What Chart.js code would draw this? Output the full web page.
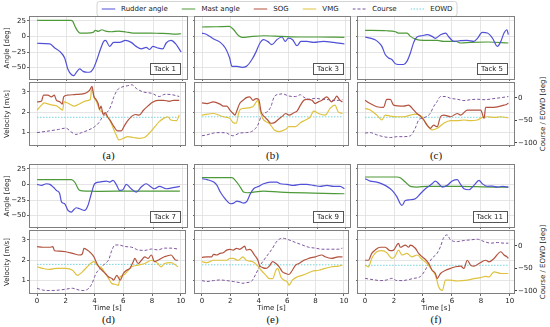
<!DOCTYPE html>
<html lang="en">
<head>
<meta charset="UTF-8">
<title>Tack manoeuvres</title>
<script src="https://cdn.jsdelivr.net/npm/chart.js"></script>
<style>
  body { margin: 0; background: #fff; width: 550px; height: 327px; position: relative; overflow: hidden; font-family: "DejaVu Sans", sans-serif; }
  canvas { position: absolute; }
  #legend { position: absolute; left: 277px; top: 1px; transform: translateX(-50%); height: 14px; border: 1px solid #d4d4d4; border-radius: 3px; padding: 0 4px; display: flex; align-items: center; font-size: 7px; color: #222; white-space: nowrap; background: #fff; }
  #legend .item { display: flex; align-items: center; margin-right: 14px; }
  #legend .item:last-child { margin-right: 0; }
  #legend svg { margin-right: 5.6px; }
  .letter { position: absolute; font: 11px "Liberation Serif", "DejaVu Serif", serif; color: #111; transform: translate(-50%, -50%); }
  .rtitle { position: absolute; font: 7px "DejaVu Sans", sans-serif; color: #222; white-space: nowrap; transform: translate(-50%, -50%) rotate(-90deg); }
</style>
</head>
<body>
<div id="legend"></div>
<script>
const seriesNames = ['Rudder angle', 'Mast angle', 'SOG', 'VMG', 'Course', 'EOWD'];
const tackNames = ['Tack 1', 'Tack 3', 'Tack 5', 'Tack 7', 'Tack 9', 'Tack 11'];
const panelLetters = ['(a)', '(b)', '(c)', '(d)', '(e)', '(f)'];
const timeTicks = [0, 2, 4, 6, 8, 10];
const angleTicks = [-50, -25, 0, 25];
const velocityTicks = [1, 2, 3];
const courseTicks = [-100, -50, 0];
const eowdLevels = [-43, -42, -43, -41, -42, -43];

// [time s, value] pairs
const rudder1 = [[0,-11],[0.87,-12],[1.21,-18.6],[1.55,-24],[1.89,-34.6],[2.12,-53],[2.35,-61],[2.51,-62.8],[2.74,-56],[2.92,-52],[3.15,-56],[3.42,-57.4],[3.65,-57],[3.88,-50.5],[4.11,-37],[4.34,-21],[4.57,-8],[4.7,-6.4],[4.98,-16],[5.25,-9.6],[5.66,-9.6],[6.07,-6.4],[6.46,-9.6],[6.8,-16],[7.15,-20],[7.49,-17.6],[7.72,-21],[7.95,-16],[8.29,-18.6],[8.63,-20],[8.86,-10.6],[9.2,-6.4],[9.5,-11.7],[9.89,-25]];
const mast1 = [[0,25.5],[1,25.5],[2.3,25.5],[2.45,24],[2.6,16],[2.8,8],[2.95,5.3],[3.4,5.3],[3.85,6.4],[4.0,9.6],[4.2,8],[4.45,10.6],[4.7,8.5],[5.1,7.4],[5.6,8.5],[6.1,7],[6.6,5.3],[7.2,5.3],[7.8,5.3],[8.4,4.8],[9.0,4.3],[9.5,3.7],[9.89,4.2]];
const sog1 = [[0,2.51],[0.3,2.54],[0.45,2.84],[0.75,2.84],[1.0,2.76],[1.2,2.84],[1.35,2.59],[1.6,2.51],[1.75,2.4],[1.85,2.76],[2.1,2.84],[2.6,2.87],[3.0,2.89],[3.4,2.95],[3.65,3.08],[3.82,3.28],[3.95,2.79],[4.1,2.63],[4.25,2.43],[4.35,2.14],[4.45,2.3],[4.6,1.89],[4.75,1.98],[4.9,1.78],[5.1,1.59],[5.35,1.29],[5.6,1.08],[5.85,1.08],[6.1,1.37],[6.35,1.62],[6.6,1.81],[6.85,1.89],[7.1,1.86],[7.4,2.1],[7.7,2.3],[8.0,2.48],[8.4,2.59],[8.8,2.59],[9.2,2.54],[9.5,2.59],[9.89,2.59]];
const vmg1 = [[0,2.11],[0.25,2.3],[0.5,2.46],[0.8,2.4],[1.1,2.35],[1.4,2.3],[1.6,2.19],[1.78,2.11],[1.88,2.51],[2.2,2.43],[2.6,2.3],[3.0,2.43],[3.4,2.56],[3.7,2.63],[3.82,3.21],[3.95,2.76],[4.15,2.51],[4.35,2.11],[4.55,2.02],[4.8,1.86],[5.05,1.62],[5.3,1.21],[5.5,0.89],[5.7,0.64],[6.0,0.72],[6.3,0.8],[6.7,0.76],[7.1,0.72],[7.5,0.77],[7.8,0.97],[8.1,1.21],[8.5,1.54],[8.8,1.7],[9.1,1.78],[9.3,1.62],[9.7,1.59],[9.89,1.86]];
const course1 = [[0,-77],[0.9,-73],[1.5,-70],[2.0,-67],[2.35,-75],[2.7,-81],[3.1,-77],[3.6,-71],[4.0,-64],[4.3,-55],[4.5,-45],[4.8,-34],[5.0,-27],[5.2,-12],[5.35,3],[5.6,18],[5.9,24],[6.3,27],[6.6,29],[6.9,21],[7.4,13],[8.0,10],[8.5,3],[8.9,8],[9.4,7],[9.89,3]];

const rudder3 = [[0,5.3],[0.35,2.7],[0.81,-4.3],[1.27,-9.6],[1.62,-18.6],[1.92,-34.6],[2.08,-48],[2.43,-48],[2.78,-49.5],[3.08,-48],[3.47,-37],[3.77,-24],[4.0,-11.7],[4.28,-5.3],[4.56,-8],[4.86,-13.3],[5.2,-5.3],[5.56,-1],[5.79,-8],[6.0,-2.7],[6.3,-5.3],[6.6,-15],[6.88,-8],[7.3,-8],[7.75,-9.6],[8.45,-8],[9.14,-9.6],[9.9,-12.2]];
const mast3 = [[0,15],[1.0,15.4],[1.9,16],[2.2,10.6],[2.55,1],[2.8,-1.6],[3.5,0],[4.3,1],[5.5,0],[6.8,-1],[8.1,-1],[9.9,-1.6]];
const sog3 = [[0,2.46],[0.35,2.43],[0.8,2.51],[1.27,2.4],[1.5,2.3],[1.75,2.3],[1.97,2.11],[2.2,1.94],[2.33,1.86],[2.43,2.02],[2.66,2.43],[2.9,2.59],[3.13,2.72],[3.36,2.76],[3.59,2.59],[3.82,2.67],[4.0,2.63],[4.17,2.02],[4.4,1.78],[4.63,1.62],[4.86,1.46],[5.1,1.49],[5.33,1.62],[5.67,1.81],[5.9,1.94],[6.13,1.86],[6.48,1.98],[6.7,2.06],[6.94,2.35],[7.18,2.59],[7.4,2.63],[7.75,2.59],[7.98,2.43],[8.2,2.51],[8.45,2.59],[8.8,2.76],[9.14,2.51],[9.37,2.67],[9.49,2.79],[9.72,2.59],[9.9,2.51]];
const vmg3 = [[0,1.86],[0.81,1.94],[1.5,1.78],[1.97,1.7],[2.2,1.49],[2.43,1.46],[2.55,1.86],[2.66,2.11],[2.9,2.19],[3.59,2.27],[3.94,2.59],[4.05,2.19],[4.28,1.7],[4.51,1.54],[4.74,1.46],[5.1,1.13],[5.44,1.05],[5.9,1.16],[6.13,1.29],[6.6,1.29],[6.94,1.49],[7.29,1.62],[7.64,1.78],[7.87,2.06],[8.2,1.94],[8.68,1.86],[9.03,2.19],[9.37,2.35],[9.6,2.02],[9.9,1.94]];
const course3 = [[0,-84],[0.35,-82],[0.81,-78],[1.27,-77],[1.74,-78],[1.97,-82],[2.2,-84],[2.66,-78],[3.13,-77],[3.59,-73],[3.94,-60],[4.17,-41],[4.4,-34],[4.63,-30],[4.86,-19],[5.1,3],[5.44,8],[5.67,9],[6.13,4],[6.6,3],[6.94,7],[7.18,1.5],[7.52,-3],[8.0,-1],[8.45,-3],[8.9,-4],[9.37,-6],[9.9,-4]];

const rudder5 = [[0,-1],[0.35,-2.7],[0.69,-5.3],[0.93,-9.6],[1.16,-16],[1.39,-29],[1.62,-34.6],[1.85,-37],[2.08,-43.6],[2.31,-45],[2.66,-45],[2.89,-40],[3.13,-26.6],[3.36,-9.6],[3.59,-1],[3.94,1],[4.28,2.7],[4.63,0],[4.86,-3.2],[5.21,2.7],[5.56,5.3],[5.79,-1],[6.13,-8],[6.6,-6.9],[7.06,-6.4],[7.52,-8],[7.75,-3.7],[8.1,6.4],[8.45,5.3],[8.8,-2.7],[9.14,-16],[9.38,-8],[9.6,5.3],[9.8,10.6],[9.9,2.7]];
const mast5 = [[0,9.6],[1.5,9],[2.1,7.4],[2.3,5.3],[2.9,5.3],[3.13,0],[3.47,-4.3],[4.05,-6.4],[5.0,-6.4],[5.4,-8],[6.3,-8],[6.6,-10.6],[7.3,-9.6],[8.5,-9],[9.9,-10.6]];
const sog5 = [[0,2.59],[0.35,2.43],[0.81,2.27],[1.27,2.24],[1.5,2.63],[1.74,2.63],[1.97,2.35],[2.66,2.3],[3.0,2.35],[3.36,2.11],[3.59,1.94],[3.82,1.81],[4.05,1.62],[4.28,1.37],[4.51,1.21],[4.74,1.37],[4.98,1.29],[5.21,1.78],[5.44,1.86],[5.9,1.78],[6.37,1.94],[6.6,1.86],[7.06,2.11],[7.52,2.11],[7.99,2.11],[8.22,1.7],[8.33,2.24],[8.68,2.24],[9.14,2.27],[9.6,2.35],[9.8,2.4],[9.9,2.46]];
const vmg5 = [[0,2.19],[0.35,2.11],[0.81,1.86],[1.16,1.62],[1.39,1.86],[1.74,1.81],[2.2,1.78],[2.66,1.78],[3.13,1.86],[3.47,1.91],[3.94,1.78],[4.28,1.37],[4.63,1.13],[4.98,1.21],[5.44,1.46],[5.9,1.59],[6.37,1.59],[6.83,1.62],[7.29,1.59],[7.75,1.62],[8.1,1.75],[8.45,1.78],[8.91,1.75],[9.38,1.78],[9.9,1.72]];
const course5 = [[0,-78],[0.35,-77],[0.81,-82],[1.27,-86],[1.74,-88],[2.2,-86],[2.66,-86],[3.13,-84],[3.47,-67],[3.7,-49],[3.94,-45],[4.28,-41],[4.51,-34],[4.74,-19],[4.98,-8],[5.21,3],[5.56,3],[5.9,-1],[6.37,-3],[6.83,-6],[7.29,-4],[7.75,-3],[8.22,-4],[8.91,-1.5],[9.6,1.5],[9.9,3]];

const rudder7 = [[0,0],[0.3,-1.6],[0.64,1],[0.87,0],[1.1,-4.3],[1.32,-9.6],[1.55,-15],[1.67,-28],[1.89,-31],[2.12,-41.7],[2.35,-44.4],[2.47,-41.7],[2.69,-37.4],[2.92,-39],[3.26,-41.7],[3.49,-33.7],[3.72,-15],[3.95,1],[4.29,3.7],[4.75,5.3],[4.98,3.7],[5.21,6.4],[5.43,0],[5.66,-9.6],[5.89,-8.6],[6.12,0],[6.46,-7],[6.8,-12.3],[7.15,-4.3],[7.49,1],[7.83,-4.3],[8.06,-7],[8.4,-3.2],[8.86,-7],[9.32,-5.3],[9.8,-3.2]];
const mast7 = [[0,7.5],[2.35,7.5],[2.58,3.7],[2.92,-9.6],[3.4,-10.7],[4.3,-11.2],[6.6,-10.7],[8.9,-10.7],[9.8,-10.7]];
const sog7 = [[0,2.67],[0.4,2.64],[0.87,2.64],[1.1,2.67],[1.21,2.47],[1.55,2.45],[2.0,2.42],[2.47,2.34],[2.92,2.26],[3.15,2.31],[3.26,2.59],[3.49,2.5],[3.72,2.37],[3.95,2.17],[4.06,2.0],[4.29,1.68],[4.52,1.51],[4.75,1.35],[4.98,1.18],[5.21,1.1],[5.32,1.02],[5.55,1.26],[5.78,1.02],[6.0,1.35],[6.23,1.51],[6.46,1.6],[6.69,1.93],[6.8,2.09],[7.03,1.84],[7.26,2.0],[7.49,2.17],[7.72,2.09],[7.95,2.26],[8.17,1.93],[8.4,2.0],[8.86,2.17],[9.32,2.26],[9.66,2.0],[9.8,2.0]];
const vmg7 = [[0,1.68],[0.4,1.6],[0.87,1.55],[1.32,1.6],[2.0,1.6],[2.47,1.51],[2.81,1.26],[3.15,1.43],[3.49,1.68],[3.95,1.93],[4.18,1.76],[4.52,1.6],[4.75,1.35],[4.98,1.1],[5.21,0.85],[5.43,0.82],[5.66,0.77],[5.78,1.18],[6.0,1.26],[6.35,1.51],[6.58,1.68],[7.03,1.76],[7.49,1.84],[7.95,2.0],[8.4,1.84],[8.63,1.68],[8.86,1.84],[9.32,1.88],[9.8,1.68]];
const course7 = [[0,-94],[0.4,-98],[0.87,-99],[1.55,-98],[2.0,-96],[2.47,-94],[2.92,-98],[3.26,-99],[3.6,-94],[3.83,-83],[4.06,-64],[4.29,-53],[4.52,-46],[4.75,-38.5],[4.98,-31],[5.21,-9],[5.43,2],[5.66,2],[6.12,-1.5],[6.58,-3],[7.03,-9],[7.49,-10],[7.95,-7],[8.4,-9],[8.86,-5],[9.32,-5],[9.8,-7]];

const rudder9 = [[0,9],[0.35,7.5],[0.81,3.7],[1.04,-1.6],[1.27,-12.3],[1.5,-20],[1.74,-26.7],[1.97,-31],[2.2,-30],[2.43,-26.7],[2.66,-28],[2.89,-30],[3.13,-26.7],[3.36,-15],[3.59,-7],[3.94,-3.2],[4.28,1],[4.75,3.7],[5.21,3.7],[5.44,1],[5.9,0],[6.37,-1.6],[6.83,0],[7.29,0],[7.75,-1.6],[8.22,-3.2],[8.68,-1.6],[9.14,-3.2],[9.6,-3.2],[9.9,-7]];
const mast9 = [[0,10.7],[2.08,10.7],[2.31,6.4],[2.66,-4.3],[2.89,-12.3],[3.13,-13.4],[4.28,-10.7],[5.44,-12.3],[7.75,-13.9],[9.9,-15]];
const sog9 = [[0,2.14],[0.35,2.17],[0.69,2.17],[0.81,2.29],[1.04,2.26],[1.27,2.34],[1.5,2.37],[1.74,2.5],[1.97,2.54],[2.2,2.5],[2.43,2.59],[2.66,2.54],[2.89,2.64],[3.01,2.7],[3.13,2.5],[3.36,2.54],[3.47,2.5],[3.7,2.26],[3.94,2.0],[4.05,1.76],[4.28,1.64],[4.51,1.6],[4.74,1.71],[4.98,1.93],[5.21,1.84],[5.44,1.68],[5.67,1.43],[5.9,1.35],[6.13,1.3],[6.37,1.51],[6.6,1.76],[6.83,1.84],[7.18,2.0],[7.52,2.09],[7.99,2.17],[8.45,2.26],[8.68,2.17],[9.14,2.09],[9.6,2.17],[9.9,2.17]];
const vmg9 = [[0,1.93],[0.35,1.88],[0.81,2.0],[1.27,2.0],[1.74,2.0],[1.97,2.09],[2.2,2.09],[2.55,2.0],[2.89,2.17],[3.13,2.0],[3.59,1.93],[3.94,1.71],[4.17,1.51],[4.51,1.26],[4.74,1.1],[4.98,1.1],[5.21,1.51],[5.33,1.6],[5.56,1.18],[5.79,1.02],[6.02,0.93],[6.13,0.77],[6.37,1.02],[6.71,1.18],[7.06,1.26],[7.41,1.35],[7.76,1.46],[8.22,1.51],[8.68,1.6],[9.14,1.68],[9.6,1.71],[9.9,1.76]];
const course9 = [[0,-77],[0.35,-79],[0.81,-77],[1.27,-75.6],[1.74,-77],[2.2,-79],[2.66,-81.5],[2.89,-83],[3.13,-81.5],[3.47,-79],[3.82,-61],[4.05,-46],[4.28,-35],[4.63,-20],[4.98,-5],[5.21,7.4],[5.44,14.8],[5.67,17],[6.13,13.3],[6.6,7.4],[7.06,2.2],[7.52,-3],[7.99,-5],[8.45,-7.4],[9.14,-7.4],[9.6,-7.4],[9.9,-5]];

const rudder11 = [[0,9],[0.35,5.3],[0.81,3.7],[1.04,2],[1.39,-1.6],[1.74,-7],[1.97,-12.3],[2.2,-20],[2.43,-31],[2.55,-33.7],[2.78,-25.7],[3.13,-24.6],[3.47,-23],[3.82,-15],[4.17,-7],[4.4,-3.2],[4.63,1],[4.86,5.3],[5.09,1],[5.33,-4.3],[5.67,-1.6],[6.02,5.3],[6.37,7.5],[6.6,0],[6.83,-7],[7.18,-8.6],[7.52,-1.6],[7.87,6.4],[8.1,1],[8.45,-3.2],[8.8,-2.7],[9.14,-4.3],[9.49,-3.2],[9.9,-4.3]];
const mast11 = [[0,11.8],[2.2,11.8],[2.43,10.7],[2.78,3.7],[3.13,-3.2],[3.59,-4.3],[4.28,-3.2],[5.44,-3.2],[6.6,-3.2],[8.91,-4.3],[9.9,-4.3]];
const sog11 = [[0,2.0],[0.23,2.0],[0.46,2.34],[0.69,2.5],[1.04,2.64],[1.39,2.64],[1.74,2.47],[1.97,2.5],[2.31,2.83],[2.43,2.64],[2.78,2.75],[3.01,2.64],[3.13,2.75],[3.47,2.59],[3.7,2.34],[3.94,2.17],[4.17,2.04],[4.4,1.84],[4.63,1.51],[4.86,1.35],[4.98,1.1],[5.21,1.35],[5.56,1.51],[5.9,1.6],[6.25,1.68],[6.6,1.71],[6.83,1.6],[7.06,2.0],[7.29,1.76],[7.52,1.71],[7.87,1.84],[8.33,2.0],[8.56,1.92],[8.91,2.09],[9.38,2.42],[9.6,2.26],[9.8,2.17],[9.9,2.09]];
const vmg11 = [[0,1.76],[0.23,1.68],[0.46,2.09],[0.81,2.42],[1.16,2.47],[1.5,2.37],[1.85,2.09],[2.08,2.21],[2.31,2.5],[2.55,2.26],[2.89,2.34],[3.24,2.17],[3.59,2.26],[3.94,2.04],[4.28,1.84],[4.63,1.51],[4.86,1.26],[5.09,0.69],[5.33,0.52],[5.56,1.02],[5.9,1.02],[6.37,0.98],[7.06,1.02],[7.52,1.1],[7.99,1.15],[8.33,1.21],[8.56,1.18],[8.91,1.43],[9.38,1.35],[9.9,1.35]];
const course11 = [[0,-72],[0.35,-74],[0.69,-75.6],[1.04,-77],[1.5,-75.6],[1.85,-72],[2.2,-77],[2.55,-77],[2.89,-75.6],[3.36,-72],[3.82,-68],[4.17,-53],[4.4,-38.5],[4.63,-27.4],[4.98,-16.3],[5.21,-1.5],[5.44,19],[5.67,24.4],[5.9,13.3],[6.37,9.6],[6.83,11.9],[7.29,13.3],[7.75,14.8],[8.22,9.6],[8.68,6],[9.14,7.4],[9.6,6],[9.9,6]];

const tacks = [
  { rudder: rudder1, mast: mast1, sog: sog1, vmg: vmg1, course: course1 },
  { rudder: rudder3, mast: mast3, sog: sog3, vmg: vmg3, course: course3 },
  { rudder: rudder5, mast: mast5, sog: sog5, vmg: vmg5, course: course5 },
  { rudder: rudder7, mast: mast7, sog: sog7, vmg: vmg7, course: course7 },
  { rudder: rudder9, mast: mast9, sog: sog9, vmg: vmg9, course: course9 },
  { rudder: rudder11, mast: mast11, sog: sog11, vmg: vmg11, course: course11 }
];

// styles
const colors = ['#5151d8', '#4e9a3a', '#b3533f', '#dfc23f', '#7d559f', '#72d3dc'];
const dashes = [[], [], [], [], [3, 2], [1.5, 1.5]];
const GRID = '#dedede';
const TEXT = '#222';
const font = { family: 'DejaVu Sans', size: 7 };

// panel placement in px
const cols = [[30, 187], [195, 350], [358, 514]];
const rows = [{ angle: [17, 79], vel: [83, 145] }, { angle: [165, 227], vel: [231, 293] }];

// legend
const legend = document.getElementById('legend');
seriesNames.forEach((name, i) => {
  const item = document.createElement('span');
  item.className = 'item';
  item.innerHTML = `<svg width="14" height="4"><line x1="0" y1="2" x2="14" y2="2" stroke="${colors[i]}" stroke-width="1.2" stroke-dasharray="${dashes[i].join(' ') || 'none'}"/></svg>${name}`;
  legend.appendChild(item);
});

const fmt = v => v < 0 ? '\u2212' + Math.abs(v) : String(v);
const fixedTicks = list => s => { s.ticks = list.map(v => ({ value: v })); };
const fixBox = size => s => {
  if (s.isHorizontal()) s.height = size; else s.width = size;
  s.paddingTop = s.paddingBottom = s.paddingLeft = s.paddingRight = 0;
};

Chart.register({
  id: 'frame',
  afterDraw(chart, args, opts) {
    const { ctx, chartArea: a } = chart;
    ctx.save();
    ctx.strokeStyle = '#7f7f7f';
    ctx.lineWidth = 1;
    ctx.strokeRect(a.left - 0.5, a.top - 0.5, a.right - a.left + 1, a.bottom - a.top + 1);
    if (opts.label) {
      ctx.font = '7px "DejaVu Sans"';
      const w = ctx.measureText(opts.label).width + 8;
      const x = a.right - 7 - w, y = a.bottom - 5 - 11;
      ctx.fillStyle = '#fff';
      ctx.fillRect(x, y, w, 11);
      ctx.strokeStyle = '#555';
      ctx.strokeRect(Math.round(x) + 0.5, Math.round(y) + 0.5, Math.round(w), 11);
      ctx.fillStyle = TEXT;
      ctx.textAlign = 'center';
      ctx.textBaseline = 'middle';
      ctx.fillText(opts.label, x + w / 2, y + 6);
    }
    ctx.restore();
  }
});

function addCanvas(x, y, w, h) {
  const c = document.createElement('canvas');
  c.width = w; c.height = h;
  c.style.left = x + 'px'; c.style.top = y + 'px';
  c.style.width = w + 'px'; c.style.height = h + 'px';
  document.body.appendChild(c);
  return c;
}

function addText(cls, text, x, y) {
  const d = document.createElement('div');
  d.className = cls;
  d.textContent = text;
  d.style.left = x + 'px';
  d.style.top = y + 'px';
  document.body.appendChild(d);
}

const pts = arr => arr.map(([x, y]) => ({ x, y }));
function line(label, data, i, axis) {
  return {
    label, data: pts(data), yAxisID: axis,
    borderColor: colors[i], borderWidth: i < 4 ? 1.2 : 1, borderDash: dashes[i],
    pointRadius: 0, fill: false, cubicInterpolationMode: 'monotone'
  };
}

function xScale(bottomH, showLabels) {
  return {
    type: 'linear', min: -0.49, max: 10.29,
    afterBuildTicks: fixedTicks(timeTicks), afterFit: fixBox(bottomH),
    grid: { color: GRID, lineWidth: 0.8, tickLength: 3, tickColor: '#444' },
    border: { display: false },
    ticks: { display: showLabels, padding: 1, font, color: TEXT, callback: fmt },
    title: { display: showLabels, text: 'Time [s]', padding: 0, font, color: TEXT }
  };
}

function leftScale(min, max, ticks, width, title) {
  return {
    min, max, position: 'left',
    afterBuildTicks: fixedTicks(ticks), afterFit: fixBox(width),
    grid: { color: GRID, lineWidth: 0.8, tickLength: 3, tickColor: '#444' },
    border: { display: false },
    ticks: { display: !!title, padding: 1, font, color: TEXT, callback: fmt },
    title: { display: !!title, text: title || '', padding: { top: 3, bottom: 0 }, font, color: TEXT }
  };
}

tacks.forEach((tk, i) => {
  const col = i % 3, row = Math.floor(i / 3);
  const [pl, pr] = cols[col];
  const leftW = col === 0 ? 30 : 2;
  const endT = tk.sog[tk.sog.length - 1][0];

  // angle panel
  const [at, ab] = rows[row].angle;
  const c1 = addCanvas(pl - leftW, at - 2, leftW + (pr - pl) + 2, (ab - at) + 4);
  new Chart(c1, {
    type: 'line',
    data: { datasets: [line(seriesNames[0], tk.rudder, 0, 'y'), line(seriesNames[1], tk.mast, 1, 'y')] },
    options: {
      responsive: false, animation: false, devicePixelRatio: 1,
      layout: { padding: { top: 2, right: 2, left: 0, bottom: 0 } },
      plugins: { legend: { display: false }, tooltip: { enabled: false }, frame: { label: tackNames[i] } },
      scales: {
        x: xScale(2, false),
        y: leftScale(-68.2, 31, angleTicks, leftW, col === 0 ? 'Angle [deg]' : null)
      }
    }
  });

  // velocity panel
  const [vt, vb] = rows[row].vel;
  const rightW = col === 2 ? 24 : 2;
  const bottomH = row === 1 ? 19 : 2;
  const c2 = addCanvas(pl - leftW, vt - 2, leftW + (pr - pl) + rightW, (vb - vt) + 2 + bottomH);
  new Chart(c2, {
    type: 'line',
    data: {
      datasets: [
        line(seriesNames[2], tk.sog, 2, 'y'),
        line(seriesNames[3], tk.vmg, 3, 'y'),
        line(seriesNames[4], tk.course, 4, 'y1'),
        line(seriesNames[5], [[0, eowdLevels[i]], [endT, eowdLevels[i]]], 5, 'y1')
      ]
    },
    options: {
      responsive: false, animation: false, devicePixelRatio: 1,
      layout: { padding: { top: 2, right: col === 2 ? 0 : 2, left: 0, bottom: 0 } },
      plugins: { legend: { display: false }, tooltip: { enabled: false }, frame: {} },
      scales: {
        x: xScale(bottomH, row === 1),
        y: leftScale(0.39, 3.44, velocityTicks, leftW, col === 0 ? 'Velocity [m/s]' : null),
        y1: {
          display: col === 2, position: 'right', min: -104.5, max: 33,
          afterBuildTicks: fixedTicks(courseTicks), afterFit: fixBox(rightW),
          grid: { drawOnChartArea: false, tickLength: 3, tickColor: '#444' },
          border: { display: false },
          ticks: { padding: 1, font, color: TEXT, callback: fmt }
        }
      }
    }
  });

  if (col === 2) addText('rtitle', 'Course / EOWD [deg]', 543, (vt + vb) / 2);
  addText('letter', panelLetters[i], (pl + pr) / 2, row === 0 ? 155 : 319);
});
</script>
</body>
</html>
